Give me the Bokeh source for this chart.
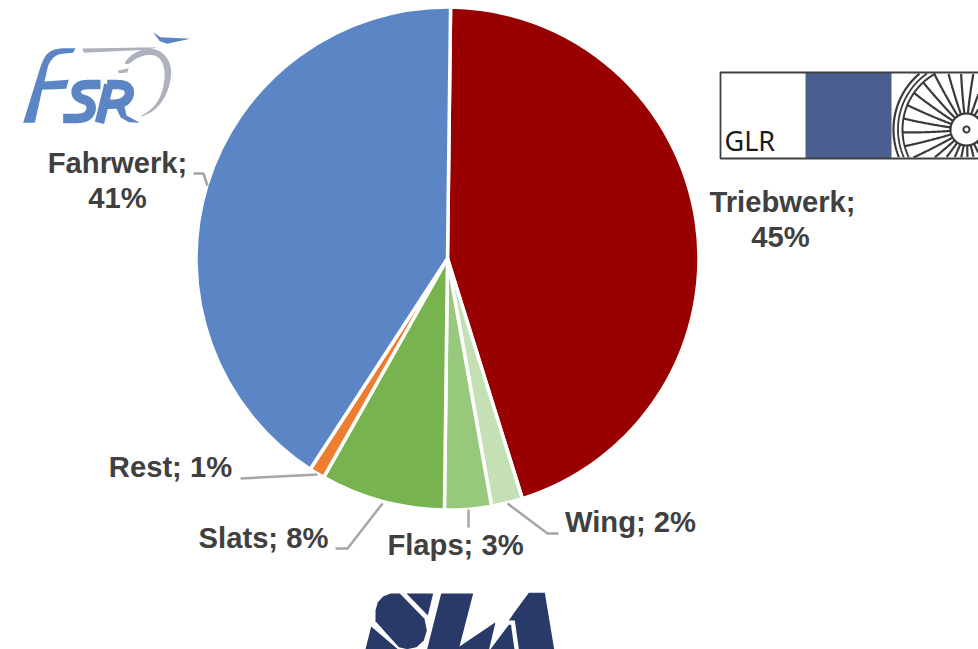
import numpy as np
from bokeh.core.properties import value
from bokeh.embed import file_html
from bokeh.models import ColumnDataSource
from bokeh.plotting import figure
from bokeh.resources import INLINE

W, H = 978, 649

# Share of each assembly, in percent, clockwise from twelve o'clock
categories = ["Triebwerk", "Wing", "Flaps", "Slats", "Rest", "Fahrwerk"]
shares = [45, 2, 3, 8, 1, 41]
slice_colors = ["#990000", "#C5E0B4", "#98C87C", "#77B44F", "#ED7D31", "#5B85C5"]

# Label lines, with their top-left based page positions and anchors
label_lines = ["Triebwerk;", "45%", "Wing; 2%", "Flaps; 3%", "Slats; 8%", "Rest; 1%", "Fahrwerk;", "41%"]
label_x = [782, 780, 630, 455, 263, 170, 117, 117]
label_y = [201, 236, 521, 544, 537, 466, 162, 197]

# Leader lines from the labels to their slices
leaders = [
    [(193, 173), (203, 173), (207, 185)],
    [(240, 478), (317, 474)],
    [(335, 548), (347, 548), (382, 503)],
    [(468, 509), (468, 527)],
    [(507, 503), (547, 533), (558, 533)],
]

CX, CY, R = 447, 258, 251.5
ROTATION = 0.7

# SLA logotype outlines
SLA_BLOB = [(105, 120), (112, 95), (128, 78), (150, 69), (178, 69), (252, 145), (259, 180), (250, 210), (228, 230),
            (200, 236), (175, 230), (105, 152)]
SLA_S_LOW = [(92, 168), (172, 236), (75, 236)]
SLA_S_TOP = [(198, 69), (278, 69), (262, 135)]
SLA_L = [(302, 69), (398, 69), (357, 228), (465, 155), (446, 236), (260, 236)]
SLA_A_LEFT = [(450, 236), (505, 163), (512, 163), (513, 175), (522, 236)]
SLA_A_MAIN = [(565, 67), (613, 67), (641, 236), (535, 236), (523, 150), (505, 150), (522, 125)]

# FSR logotype outlines
FSR_F = [(68, 307), (103, 307), (125, 208), (197, 205), (205, 178), (132, 183), (143, 135), (150, 122), (160, 110),
         (172, 103), (185, 100), (218, 97), (225, 83), (185, 83), (165, 86), (150, 92), (138, 102), (130, 115),
         (122, 133), (115, 155)]
FSR_S = [(300, 192), (250, 192), (234, 198), (226, 210), (228, 224), (240, 234), (260, 240), (272, 252), (272, 272),
         (260, 288), (240, 294), (188, 294)]
FSR_R_STEM = [(297, 307), (325, 192)]
FSR_R_BOWL = [(320, 192), (365, 192), (382, 200), (388, 215), (382, 235), (362, 250), (312, 252)]
FSR_R_LEG = [(345, 258), (372, 258), (378, 285), (418, 307), (385, 305), (360, 290)]
FSR_SWOOSH = [(458, 35), (480, 50), (570, 55), (500, 70), (478, 62)]
FSR_BAR = [(245, 84), (470, 80), (440, 88), (250, 97)]
FSR_DASH = [(352, 150), (385, 143), (380, 156), (355, 158)]
FSR_RING = [(368, 130), (395, 100), (440, 82), (480, 90), (508, 122), (514, 165), (498, 225), (462, 272), (408, 295),
            (460, 262), (485, 218), (494, 165), (488, 128), (470, 106), (440, 102), (405, 114), (385, 132)]


def rounded(points, closed=False, passes=3):
    """Corner-cut an outline so that it reads as a curve."""
    pts = np.asarray(points, dtype=float)
    for _ in range(passes):
        nxt = np.roll(pts, -1, axis=0)
        q, r = 0.75 * pts + 0.25 * nxt, 0.25 * pts + 0.75 * nxt
        mixed = np.empty((2 * len(pts), 2))
        mixed[0::2], mixed[1::2] = q, r
        pts = mixed if closed else np.vstack([points[0], mixed[:-2], points[-1]])
    return pts


def page_y(y):
    return H - np.asarray(y, dtype=float)


def zoomed(points, ox, oy):
    """Scale an outline drawn at three times size and place it on the page."""
    pts = np.asarray(points, dtype=float)
    return (ox + pts[:, 0] / 3).tolist(), page_y(oy + pts[:, 1] / 3).tolist()


p = figure(width=W, height=H, x_range=(0, W), y_range=(0, H), output_backend="svg", toolbar_location=None,
           min_border=0, outline_line_color=None, background_fill_color="white", border_fill_color="white")
p.axis.visible = False
p.grid.visible = False

# Pie slices
totals = np.cumsum([0] + shares) / sum(shares)
angles = np.pi / 2 - np.radians(ROTATION) - 2 * np.pi * totals
pie = ColumnDataSource(dict(category=categories, start=angles[:-1].tolist(), end=angles[1:].tolist(),
                            color=slice_colors))
p.wedge(x=CX, y=H - CY, radius=R, start_angle="start", end_angle="end", direction="clock", fill_color="color",
        line_color="white", line_width=3.5, source=pie)

# Leader lines and labels
for leader in leaders:
    xs, ys = zip(*leader)
    p.line(list(xs), page_y(ys).tolist(), line_color="#A6A6A6", line_width=2.5)
p.text(x=label_x, y=page_y(label_y).tolist(), text=label_lines, text_font=value("Liberation Sans"),
       text_font_style="bold", text_font_size="29.2px", text_color="#404040", text_align="center",
       text_baseline="middle")

# FSR logo
FSR_BLUE, FSR_GREY = "#5B85C5", "#AEB2BF"
for outline, colour in [(FSR_F, FSR_BLUE), (FSR_R_LEG, FSR_BLUE), (FSR_SWOOSH, FSR_BLUE), (FSR_BAR, FSR_GREY),
                        (FSR_DASH, FSR_GREY), (rounded(FSR_RING, closed=True, passes=2), FSR_GREY)]:
    xs, ys = zoomed(outline, 0, 20)
    p.patch(xs, ys, fill_color=colour, line_color=None)
for stroke in (rounded(FSR_S), FSR_R_STEM, rounded(FSR_R_BOWL)):
    xs, ys = zoomed(stroke, 0, 20)
    p.line(xs, ys, line_color=FSR_BLUE, line_width=9.5, line_join="round")

# SLA logo
for outline in (SLA_BLOB, SLA_S_LOW, SLA_S_TOP, SLA_L, SLA_A_LEFT, SLA_A_MAIN):
    xs, ys = zoomed(outline, 340, 570)
    p.patch(xs, ys, fill_color="#2A3A68", line_color=None)

# GLR badge: white panel, blue panel and turbine panel
BOX_L, BOX_R, BOX_T, BOX_B = 720, 978, 72, 158
p.quad(left=805, right=891, top=H - BOX_T, bottom=H - BOX_B, fill_color="#4A5F90", line_color=None)
p.line([BOX_R, BOX_L, BOX_L, BOX_R], page_y([BOX_T, BOX_T, BOX_B, BOX_B]).tolist(), line_color="#404040",
       line_width=1.8)
p.text(x=[724], y=[H - 140], text=["GLR"], text_font=value("Noto Sans"), text_font_size="27px", text_color="#1A1A1A",
       text_align="left", text_baseline="middle")


def badge_clip(xs, ys):
    """Break a curve wherever it leaves the turbine panel."""
    inside = (ys > BOX_T + 1) & (ys < BOX_B - 1) & (xs < BOX_R)
    return xs.copy(), np.where(inside, ys, np.nan)


TX, TY = 966, 129
sweep = np.radians(np.linspace(0, 360, 720))
for radius, width in [(73, 2.2), (68.5, 1.8), (64, 2.0), (16, 2.2), (3, 2.0)]:
    xs, ys = badge_clip(TX + radius * np.cos(sweep), TY + radius * np.sin(sweep))
    p.line(xs.tolist(), (H - ys).tolist(), line_color="#3A3A3A", line_width=width)
for blade in np.arange(0, 360, 12.5):
    along = np.linspace(16, 64, 60)
    turn = np.radians(blade + (along - 16) * 0.05)
    xs, ys = badge_clip(TX + along * np.cos(turn), TY + along * np.sin(turn))
    p.line(xs.tolist(), (H - ys).tolist(), line_color="#3A3A3A", line_width=2.2)

open("out.html", "w").write(file_html(p, INLINE))
